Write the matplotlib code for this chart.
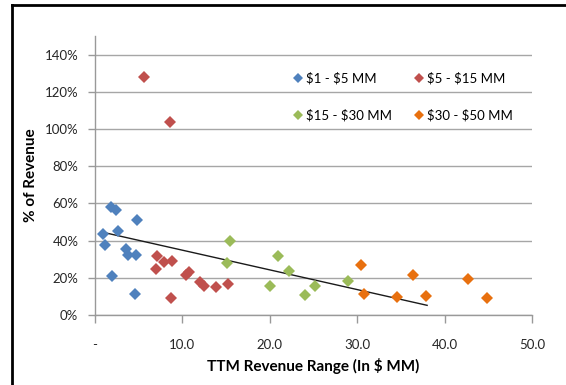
import matplotlib
matplotlib.use("Agg")
import matplotlib.pyplot as plt
from matplotlib.lines import Line2D

plt.rcParams['font.family'] = ['Lato', 'DejaVu Sans']

# revenue (in $ MM) and cost as % of revenue, by revenue band
band_labels = [r"\$1 - \$5 MM", r"\$5 - \$15 MM", r"\$15 - \$30 MM", r"\$30 - \$50 MM"]
band_colors = ["#4F81BD", "#C0504D", "#9BBB59", "#E8700F"]

x_1_5 = [0.95, 1.2, 1.8, 2.0, 2.4, 2.6, 3.6, 3.8, 4.6, 4.7, 4.85]
y_1_5 = [43.6, 37.9, 58.0, 21.0, 56.5, 45.4, 35.4, 32.3, 11.3, 32.3, 51.0]

x_5_15 = [5.65, 8.6, 7.06, 7.0, 7.9, 8.8, 8.7, 10.4, 10.8, 12.0, 12.5, 13.9, 15.2]
y_5_15 = [127.8, 104.0, 31.5, 24.6, 28.7, 29.0, 9.0, 21.5, 23.3, 18.0, 15.6, 15.3, 16.7]

x_15_30 = [15.5, 15.1, 20.0, 20.9, 22.2, 24.0, 25.2, 28.9]
y_15_30 = [39.6, 27.8, 15.6, 31.9, 23.9, 11.0, 15.4, 18.3]

x_30_50 = [30.4, 30.8, 34.6, 36.4, 37.9, 42.7, 44.9]
y_30_50 = [26.9, 11.3, 9.5, 21.5, 10.2, 19.2, 9.2]

# linear trend line end points
trend_x = [1.07, 38.0]
trend_y = [44.3, 5.2]

x_ticks = [0, 10, 20, 30, 40, 50]
x_tick_labels = ["-", "10.0", "20.0", "30.0", "40.0", "50.0"]
y_ticks = [0, 20, 40, 60, 80, 100, 120, 140]
y_tick_labels = ["0%", "20%", "40%", "60%", "80%", "100%", "120%", "140%"]

fig = plt.figure(figsize=(5.66, 3.85), dpi=100)
ax = fig.add_axes([95 / 566, 1 - 315 / 385, 437 / 566, 279 / 385])

series = [(x_1_5, y_1_5), (x_5_15, y_5_15), (x_15_30, y_15_30), (x_30_50, y_30_50)]
handles = []
for (xs, ys), lab, col in zip(series, band_labels, band_colors):
    ax.plot(xs, ys, linestyle="none", marker="D", markersize=6.5,
            color=col, markeredgewidth=0, zorder=3)
    handles.append(Line2D([], [], linestyle="none", marker="D", markersize=5,
                          color=col, markeredgewidth=0, label=lab))

ax.plot(trend_x, trend_y, color="#1a1a1a", linewidth=1.0, zorder=2)

ax.set_xlim(0, 50)
ax.set_ylim(0, 150)
ax.set_xticks(x_ticks)
ax.set_xticklabels(x_tick_labels)
ax.set_yticks(y_ticks)
ax.set_yticklabels(y_tick_labels)
ax.grid(axis="y", color="#A6A6A6", linewidth=1.0, zorder=0)
ax.set_axisbelow(True)

for side in ["top", "right"]:
    ax.spines[side].set_visible(False)
for side in ["left", "bottom"]:
    ax.spines[side].set_color("#999999")
    ax.spines[side].set_linewidth(1.0)

ax.tick_params(axis="x", length=6, width=1, color="#999999", pad=11,
               labelsize=9.5, labelcolor="#262626")
ax.tick_params(axis="y", length=5, width=1, color="#999999", pad=7,
               labelsize=9.5, labelcolor="#262626")

ax.set_xlabel(r"TTM Revenue Range (In \$ MM)", fontsize=11, fontweight="bold")
ax.set_ylabel("% of Revenue", fontsize=11, fontweight="bold")
ax.xaxis.set_label_coords(0.5, -0.155)
ax.yaxis.set_label_coords(-0.13, 0.5)

# legend: blue/red on the first row, green/orange on the second
order = [0, 2, 1, 3]
ax.legend([handles[i] for i in order], [band_labels[i] for i in order],
          ncol=2, frameon=False, fontsize=9.5, loc="upper left",
          bbox_to_anchor=(0.44, 0.895), handlelength=0.6, handletextpad=0.3,
          columnspacing=1.75, labelspacing=1.9, borderpad=0)

# chart box edges
fig.add_artist(Line2D([12 / 566, 12 / 566], [0, 1 - 5 / 385],
                      color="black", linewidth=2, transform=fig.transFigure))
fig.add_artist(Line2D([12 / 566, 1], [1 - 5 / 385, 1 - 5 / 385],
                      color="black", linewidth=2, transform=fig.transFigure))

fig.savefig("out.png", dpi=100)
